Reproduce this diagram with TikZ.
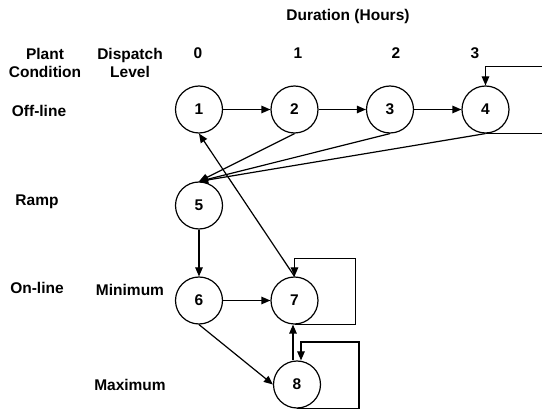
\documentclass[tikz,border=0pt]{standalone}
\usepackage{fontspec}
\setmainfont{Liberation Sans}
\usetikzlibrary{arrows.meta,positioning}

\begin{document}
\begin{tikzpicture}[
    x=1pt, y=-1pt,
    node distance=95.5pt,
    every node/.style={font=\fontsize{15.5}{18}\selectfont\bfseries},
    state/.style={circle, draw, line width=1.2pt, minimum size=47pt, inner sep=0pt},
    lbl/.style={align=center, inner sep=0pt},
    line width=1.2pt,
    >={Triangle[length=9pt,width=7.5pt]}
  ]
  \useasboundingbox (0,0) rectangle (542,409);
  \clip (0,0) rectangle (542,409);
  % headers
  \node[lbl] (dur) at (348,16) {Duration (Hours)};
  \node[lbl] (h0) at (198,53) {0};
  \node[lbl] (h1) at (298,53) {1};
  \node[lbl] (h2) at (396,53) {2};
  \node[lbl] (h3) at (475,53) {3};
  \node[lbl] (plant) at (45,63) {Plant\\Condition};
  \node[lbl] (disp) at (130,63) {Dispatch\\Level};
  \node[lbl] (off) at (39,111) {Off-line};
  \node[lbl] (ramp) at (37,202) {Ramp};
  \node[lbl] (on) at (37,288) {On-line};
  \node[lbl] (mini) at (130,290) {Minimum};
  \node[lbl] (maxi) at (130,385) {Maximum};
  % states
  \node[state] (n1) at (199,109.5) {1};
  \node[state] (n2) [right of=n1] {2};
  \node[state] (n3) [right of=n2] {3};
  \node[state] (n4) [right of=n3] {4};
  \node[state] (n5) at (199,205.5) {5};
  \node[state] (n6) at (199,300.5) {6};
  \node[state] (n7) [right of=n6] {7};
  \node[state] (n8) at (297,384.5) {8};
  \draw[->] (n1) -- (n2);
  \draw[->] (n2) -- (n3);
  \draw[->] (n3) -- (n4);
  \draw[->] (n2.south) -- (n5.north);
  \draw[->] (n3.south) -- (n5.north);
  \draw[->] (n4.south) -- (n5.north);
  \draw[->] (n4.south) -| ++(70,-67) -| (n4.north);
  \draw[->] (n5) -- (n6);
  \draw[->] (n6) -- (n7);
  \draw[->] (n6.south) -- (n8.west);
  \draw[->] (n7.north) -- (n1.south);
  \draw[->] (n7.south) -| ++(61,-66) -| (n7.north);
  \draw[->] ([xshift=-4pt]n8.north) -- ([xshift=-4pt]n8.north |- n7.south);
  \draw[->] (n8.south) -| ++(62,-66.5) -| ([xshift=4pt]n8.north);
\end{tikzpicture}
\end{document}
